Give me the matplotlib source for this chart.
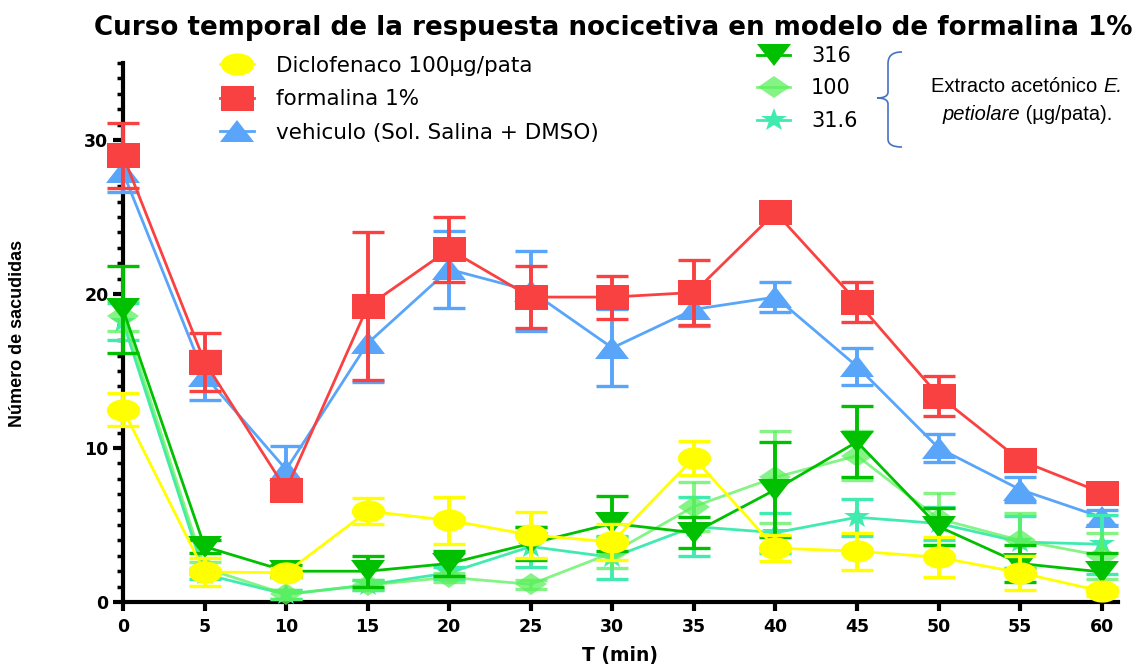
import matplotlib
matplotlib.use("Agg")
import matplotlib.pyplot as plt
from matplotlib.markers import MarkerStyle
from matplotlib.transforms import Affine2D
from matplotlib.path import Path
from matplotlib.patches import PathPatch

# tiempo (min)
t = [0, 5, 10, 15, 20, 25, 30, 35, 40, 45, 50, 55, 60]

formalina = [29.0, 15.6, 7.3, 19.2, 22.9, 19.8, 19.8, 20.1, 25.3, 19.5, 13.4, 9.2, 7.1]
formalina_sem = [2.1, 1.9, 0.5, 4.8, 2.1, 2.0, 1.4, 2.1, 0.5, 1.3, 1.3, 0.5, 0.4]

vehiculo = [27.9, 14.7, 8.6, 16.8, 21.6, 20.2, 16.5, 19.0, 19.8, 15.3, 10.0, 7.3, 5.5]
vehiculo_sem = [1.3, 1.6, 1.5, 2.5, 2.5, 2.6, 2.5, 1.1, 1.0, 1.2, 0.9, 0.8, 0.5]

diclofenaco = [12.5, 1.95, 1.9, 5.9, 5.3, 4.35, 3.9, 9.35, 3.5, 3.3, 2.9, 1.9, 0.7]
diclofenaco_sem = [1.1, 0.9, 0.3, 0.85, 1.55, 1.5, 1.15, 1.1, 0.85, 1.2, 1.3, 1.1, 0.3]

ext316 = [19.0, 3.6, 2.0, 2.0, 2.5, 3.8, 5.1, 4.5, 7.3, 10.4, 4.9, 2.5, 1.95]
ext316_sem = [2.8, 0.4, 0.4, 1.0, 0.8, 1.1, 1.8, 1.0, 3.1, 2.3, 1.2, 1.2, 1.2]

ext100 = [18.6, 2.2, 0.5, 1.1, 1.6, 1.15, 3.2, 6.2, 8.1, 9.5, 5.4, 4.0, 3.0]
ext100_sem = [1.0, 0.4, 0.3, 0.3, 0.3, 0.3, 1.0, 1.6, 3.0, 1.6, 1.7, 1.8, 1.5]

ext31 = [18.2, 1.8, 0.5, 1.1, 1.9, 3.6, 2.9, 4.9, 4.5, 5.5, 5.1, 3.9, 3.75]
ext31_sem = [1.2, 0.3, 0.3, 0.3, 0.4, 1.3, 1.4, 1.9, 1.3, 1.2, 1.1, 1.7, 1.9]

x_ticks = list(range(0, 61, 5))
y_ticks = [0, 10, 20, 30]


def mk(m, sx):
    # marcadores estirados en horizontal como en el original
    return MarkerStyle(m, transform=Affine2D().scale(sx, 1.0))


fig = plt.figure(figsize=(11.36, 6.64), dpi=100)
ax = fig.add_axes([123 / 1136, 62 / 664, 995 / 1136, 539 / 664])

series = [
    (vehiculo, vehiculo_sem, "#58A5FA", mk("^", 1.55), 16, 1.0, "vehiculo (Sol. Salina + DMSO)"),
    (formalina, formalina_sem, "#FA4141", mk("s", 1.32), 18, 1.0, "formalina 1%"),
    (ext31, ext31_sem, "#40EBB0", mk("*", 1.2), 17, 1.0, "31.6"),
    (ext100, ext100_sem, "#5CF05C", mk("D", 1.45), 11, 0.75, "100"),
    (ext316, ext316_sem, "#00C000", mk("v", 1.55), 16, 1.0, "316"),
    (diclofenaco, diclofenaco_sem, "#FFFF00", mk("o", 1.5), 16, 1.0, "Diclofenaco 100µg/pata"),
]

handles = {}
for i, (y, e, c, m, ms, a, lab) in enumerate(series):
    cont = ax.errorbar(t, y, yerr=e, color=c, marker=m, markersize=ms, lw=2.0,
                       elinewidth=2.8, capsize=11.5, capthick=2.4, alpha=a,
                       zorder=3 + i, clip_on=False)
    cont.lines[0].set_markeredgewidth(0)
    for art in list(cont.lines[1]) + list(cont.lines[2]):
        art.set_clip_on(False)
    handles[lab] = cont.lines[0]

ax.set_xlim(0, 61)
ax.set_ylim(0, 35)
ax.spines["top"].set_visible(False)
ax.spines["right"].set_visible(False)
ax.spines["left"].set_linewidth(3)
ax.spines["bottom"].set_linewidth(3)
ax.set_xticks(x_ticks)
ax.set_yticks(y_ticks)
ax.set_yticks(range(0, 36), minor=True)
ax.tick_params(axis="x", which="major", width=3, length=6.5, direction="out", pad=5)
ax.tick_params(axis="y", which="major", width=3, length=7.5, direction="out", pad=3)
ax.tick_params(axis="y", which="minor", width=2.5, length=4, direction="out")
for lb in ax.get_xticklabels() + ax.get_yticklabels():
    lb.set_fontfamily("DejaVu Sans")
    lb.set_fontweight("bold")
    lb.set_fontsize(12.5)

ax.set_xlabel("T (min)", fontsize=13.5, fontweight="bold", family="DejaVu Sans", labelpad=7)
fig.text(18 / 1136, 1 - 333 / 664, "Número de sacudidas", rotation=90, ha="center", va="center",
         fontsize=13, fontweight="bold", family=["Liberation Sans Narrow", "Liberation Sans"])

fig.text(613 / 1136, 1 - 28 / 664, "Curso temporal de la respuesta nocicetiva en modelo de formalina 1%",
         ha="center", va="center", fontsize=18.8, fontweight="bold", family="DejaVu Sans")

left_labels = ["Diclofenaco 100µg/pata", "formalina 1%", "vehiculo (Sol. Salina + DMSO)"]
right_labels = ["316", "100", "31.6"]
leg1 = ax.legend([handles[k] for k in left_labels], left_labels, loc="upper left",
                 bbox_to_anchor=(220 / 1136, 1 - 56 / 664), bbox_transform=fig.transFigure,
                 frameon=False, handlelength=1.6, handletextpad=1.0, labelspacing=0.62,
                 prop={"family": "DejaVu Sans", "size": 15.5}, borderpad=0, borderaxespad=0)
ax.add_artist(leg1)
ax.legend([handles[k] for k in right_labels], right_labels, loc="upper left",
          bbox_to_anchor=(757 / 1136, 1 - 46 / 664), bbox_transform=fig.transFigure,
          frameon=False, handlelength=1.6, handletextpad=1.0, labelspacing=0.6,
          prop={"family": "DejaVu Sans", "size": 15}, borderpad=0, borderaxespad=0)

# llave
W, H = 1136, 664
pts = [(902, 52), (892, 52), (888, 56), (888, 64),
       (888, 90), (888, 90), (888, 90), (888, 92),
       (888, 97), (882, 98), (877, 98),
       (882, 98), (888, 99), (888, 104),
       (888, 139), (888, 139), (888, 139), (888, 139),
       (888, 144), (892, 147), (902, 147)]
codes = [Path.MOVETO, Path.CURVE4, Path.CURVE4, Path.CURVE4,
         Path.LINETO, Path.LINETO, Path.LINETO, Path.LINETO,
         Path.CURVE4, Path.CURVE4, Path.CURVE4,
         Path.CURVE4, Path.CURVE4, Path.CURVE4,
         Path.LINETO, Path.LINETO, Path.LINETO, Path.LINETO,
         Path.CURVE4, Path.CURVE4, Path.CURVE4]
brace = Path([(px / W, 1 - py / H) for px, py in pts], codes)
fig.patches.append(PathPatch(brace, transform=fig.transFigure, fill=False,
                             edgecolor="#4472C4", lw=1.2))

fam = ["Liberation Sans Narrow", "Liberation Sans"]
t1 = fig.text(931 / W, 1 - 86 / H, "Extracto acetónico ", ha="left", va="center",
              fontsize=14.5, family=fam)
fig.canvas.draw()
ax.annotate("E.", xy=(1, 0), xycoords=t1, va="bottom", ha="left", fontsize=14.5,
            family=fam, style="italic")
t2 = fig.text(942 / W, 1 - 115 / H, "petiolare", ha="left", va="center",
              fontsize=14.5, family=fam, style="italic")
ax.annotate(" (µg/pata).", xy=(1, 0), xycoords=t2, va="bottom", ha="left", fontsize=14.5,
            family=fam)

fig.savefig("out.png", dpi=100)
